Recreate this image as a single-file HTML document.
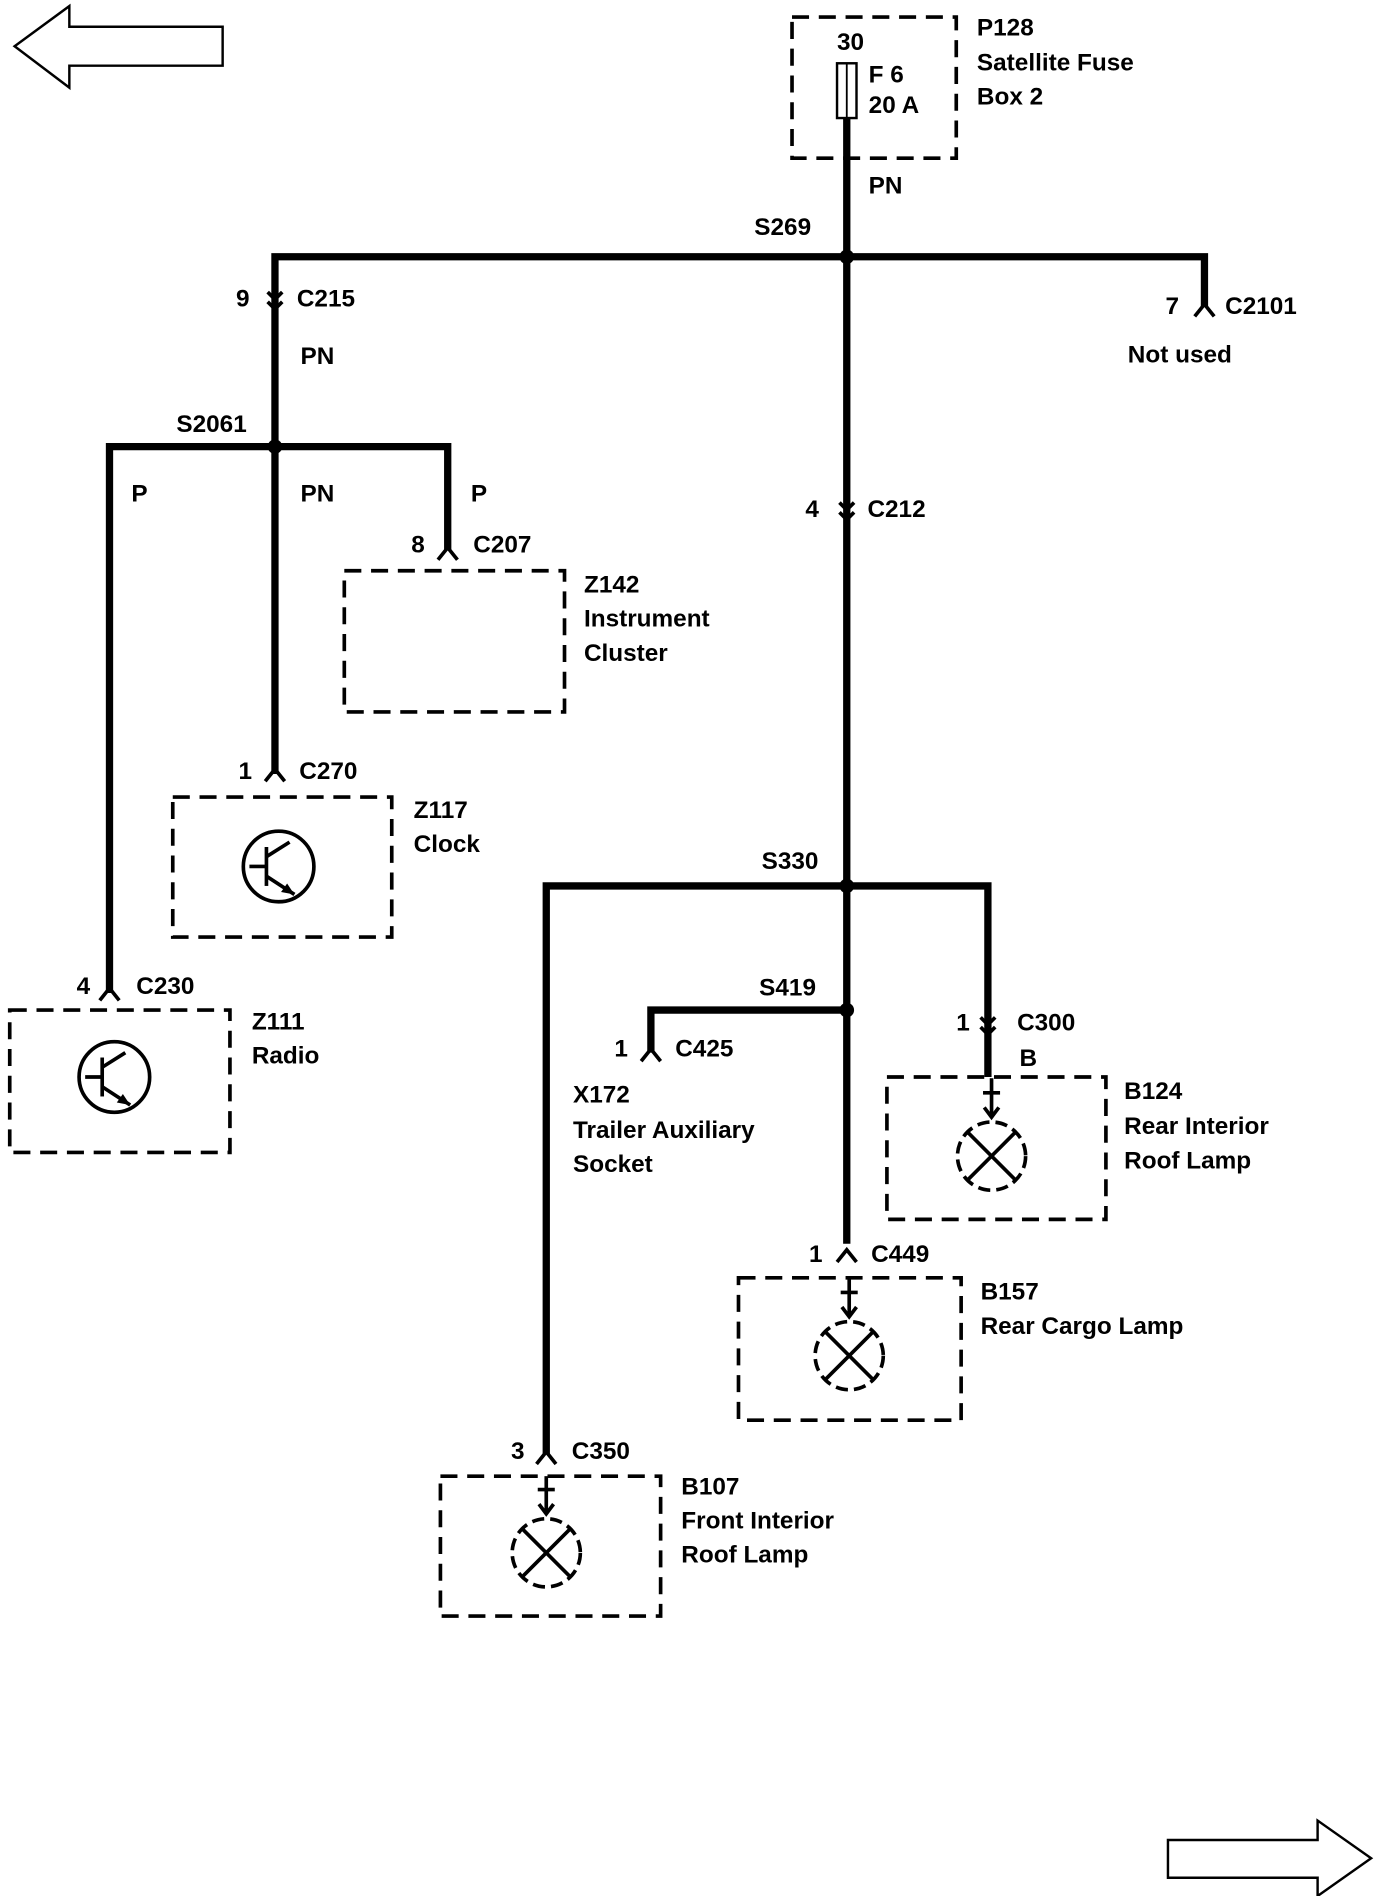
<!DOCTYPE html>
<html><head><meta charset="utf-8"><style>
html,body{margin:0;padding:0;background:#fff;}
svg{display:block;}
text{font-family:"Liberation Sans",sans-serif;font-weight:bold;font-size:20px;fill:#000;}
</style></head><body>
<svg width="1376" height="1896" viewBox="0 0 1131 1558" preserveAspectRatio="none" xmlns="http://www.w3.org/2000/svg">
<rect width="1131" height="1558" fill="#fff"/>
<!-- arrows -->
<polygon points="12,38 57,5 57,22 183,22 183,54 57,54 57,72" fill="none" stroke="#000" stroke-width="2"/>
<polygon points="1127,1527 1083,1496 1083,1512 960,1512 960,1543 1083,1543 1083,1558" fill="none" stroke="#000" stroke-width="2"/>
<g fill="none" stroke="#000" stroke-width="3" stroke-dasharray="14,8">
<rect x="651" y="14" width="135" height="116"/>
<rect x="283" y="469" width="181" height="116"/>
<rect x="142" y="655" width="180" height="115"/>
<rect x="8" y="830" width="181" height="117"/>
<rect x="729" y="885" width="180" height="117"/>
<rect x="607" y="1050" width="183" height="117"/>
<rect x="362" y="1213" width="181" height="115"/>
</g>
<rect x="688" y="52" width="16" height="45" fill="#fff" stroke="#000" stroke-width="2"/>
<line x1="696" y1="52" x2="696" y2="97" stroke="#000" stroke-width="1.5"/>
<!-- wires -->
<g stroke="#000" stroke-width="6" fill="none" stroke-linejoin="miter">
<line x1="696" y1="97" x2="696" y2="1022"/>
<polyline points="226,636 226,211 990,211 990,252"/>
<polyline points="90,816 90,367 368,367 368,452"/>
<polyline points="449,1195 449,728 812,728 812,885"/>
<polyline points="535,865 535,830 696,830"/>
</g>
<g fill="#000">
<circle cx="696" cy="211" r="6"/><circle cx="226" cy="367" r="6"/>
<circle cx="696" cy="728" r="6"/><circle cx="696" cy="830" r="6"/>
</g>
<!-- terminal connectors -->
<g stroke="#000" stroke-width="3" fill="none">
<polyline points="982,260 990,250 998,260"/>
<polyline points="360,460 368,450 376,460"/>
<polyline points="218,642 226,632 234,642"/>
<polyline points="82,822 90,812 98,822"/>
<polyline points="527,872 535,862 543,872"/>
<polyline points="688,1037 696,1027 704,1037"/>
<polyline points="441,1203 449,1193 457,1203"/>
<!-- inline connectors -->
<polyline points="220,240 226,246 232,240"/><polyline points="220,248 226,254 232,248"/>
<polyline points="690,413 696,419 702,413"/><polyline points="690,421 696,427 702,421"/>
<polyline points="806,836 812,842 818,836"/><polyline points="806,844 812,850 818,844"/>
</g>
<!-- transistors -->
<g stroke="#000" stroke-width="3" fill="none">
<circle cx="229" cy="712" r="29"/>
<line x1="219" y1="696" x2="219" y2="728"/><line x1="205" y1="712" x2="219" y2="712"/>
<line x1="219" y1="704" x2="238" y2="692"/><line x1="219" y1="720" x2="242" y2="735"/>
<circle cx="94" cy="885" r="29"/>
<line x1="84" y1="869" x2="84" y2="901"/><line x1="70" y1="885" x2="84" y2="885"/>
<line x1="84" y1="877" x2="103" y2="865"/><line x1="84" y1="893" x2="107" y2="908"/>
</g>
<polygon points="242,735 231,733 236,726" fill="#000"/>
<polygon points="107,908 96,906 101,899" fill="#000"/>
<!-- lamps -->
<g stroke="#000" stroke-width="3" fill="none">
<g transform="translate(815,950)"><circle r="28" stroke-dasharray="10,5"/><line x1="-19" y1="-19" x2="19" y2="19"/><line x1="-19" y1="19" x2="19" y2="-19"/><polyline points="-6,-40 0,-32 6,-40"/><line x1="0" y1="-32" x2="0" y2="-64"/><line x1="-7" y1="-52" x2="7" y2="-52"/></g>
<g transform="translate(698,1114)"><circle r="28" stroke-dasharray="10,5"/><line x1="-19" y1="-19" x2="19" y2="19"/><line x1="-19" y1="19" x2="19" y2="-19"/><polyline points="-6,-40 0,-32 6,-40"/><line x1="0" y1="-32" x2="0" y2="-64"/><line x1="-7" y1="-52" x2="7" y2="-52"/></g>
<g transform="translate(449,1276)"><circle r="28" stroke-dasharray="10,5"/><line x1="-19" y1="-19" x2="19" y2="19"/><line x1="-19" y1="19" x2="19" y2="-19"/><polyline points="-6,-40 0,-32 6,-40"/><line x1="0" y1="-32" x2="0" y2="-63"/><line x1="-7" y1="-52" x2="7" y2="-52"/></g>
</g>
<!-- labels -->
<text x="688" y="41">30</text><text x="714" y="68">F 6</text><text x="714" y="93">20 A</text>
<text x="803" y="29">P128</text><text x="803" y="58">Satellite Fuse</text><text x="803" y="86">Box 2</text>
<text x="714" y="159">PN</text><text x="620" y="193">S269</text>
<text x="958" y="258">7</text><text x="1007" y="258">C2101</text><text x="927" y="298">Not used</text>
<text x="194" y="252">9</text><text x="244" y="252">C215</text><text x="247" y="299">PN</text>
<text x="145" y="355">S2061</text>
<text x="108" y="412">P</text><text x="247" y="412">PN</text><text x="387" y="412">P</text>
<text x="338" y="454">8</text><text x="389" y="454">C207</text>
<text x="480" y="487">Z142</text><text x="480" y="515">Instrument</text><text x="480" y="543">Cluster</text>
<text x="196" y="640">1</text><text x="246" y="640">C270</text>
<text x="340" y="672">Z117</text><text x="340" y="700">Clock</text>
<text x="63" y="817">4</text><text x="112" y="817">C230</text>
<text x="207" y="846">Z111</text><text x="207" y="874">Radio</text>
<text x="662" y="425">4</text><text x="713" y="425">C212</text>
<text x="626" y="714">S330</text><text x="624" y="818">S419</text>
<text x="505" y="868">1</text><text x="555" y="868">C425</text>
<text x="471" y="906">X172</text><text x="471" y="935">Trailer Auxiliary</text><text x="471" y="963">Socket</text>
<text x="786" y="847">1</text><text x="836" y="847">C300</text><text x="838" y="876">B</text>
<text x="924" y="903">B124</text><text x="924" y="932">Rear Interior</text><text x="924" y="960">Roof Lamp</text>
<text x="665" y="1037">1</text><text x="716" y="1037">C449</text>
<text x="806" y="1068">B157</text><text x="806" y="1096">Rear Cargo Lamp</text>
<text x="420" y="1199">3</text><text x="470" y="1199">C350</text>
<text x="560" y="1228">B107</text><text x="560" y="1256">Front Interior</text><text x="560" y="1284">Roof Lamp</text>
</svg>
</body></html>
